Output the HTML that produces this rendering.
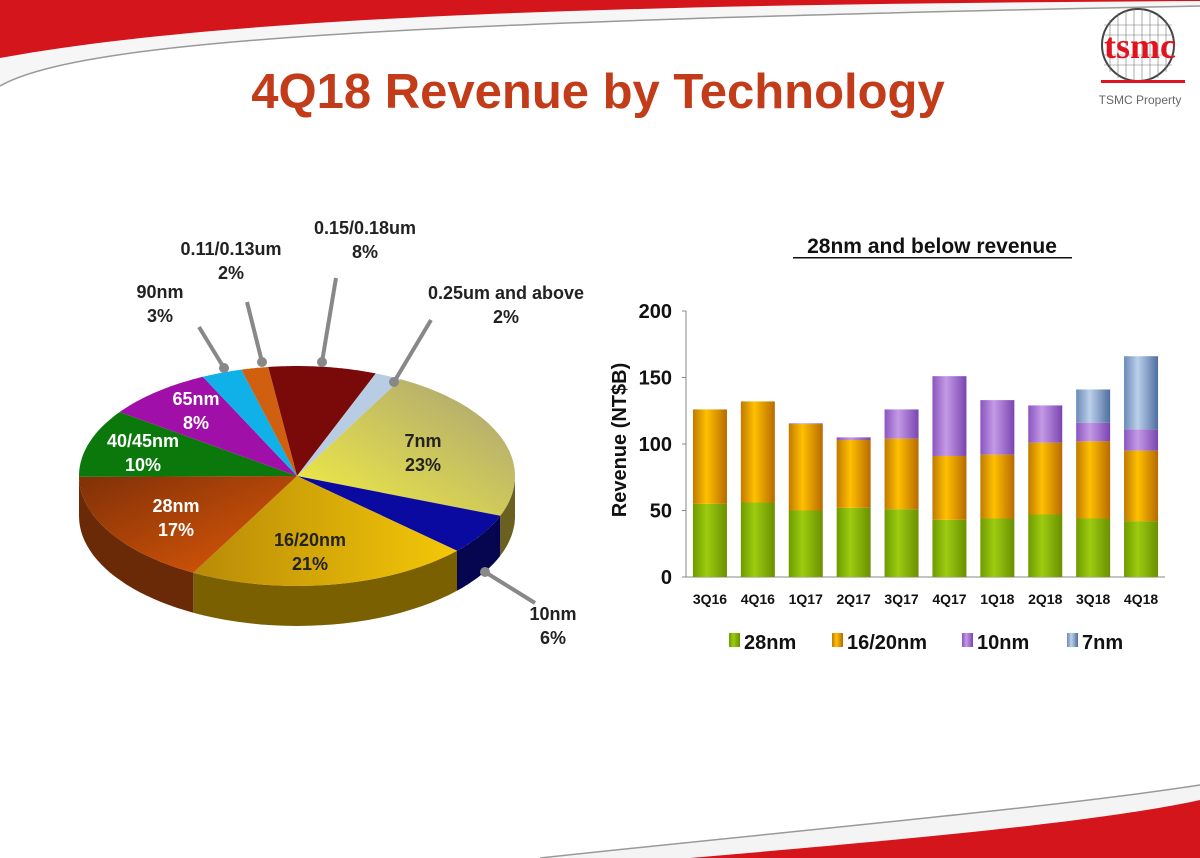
<!DOCTYPE html>
<html><head><meta charset="utf-8">
<style>
html,body{margin:0;padding:0;background:#fff;}
body{width:1200px;height:858px;overflow:hidden;position:relative;font-family:"Liberation Sans",sans-serif;}
svg{position:absolute;left:0;top:0;}
</style></head>
<body>
<svg id="root" width="1200" height="858" viewBox="0 0 1200 858">
<defs>
<linearGradient id="gGreen" x1="0" x2="1"><stop offset="0" stop-color="#6f9a00"/><stop offset="0.4" stop-color="#9ccc10"/><stop offset="1" stop-color="#6a9000"/></linearGradient>
<linearGradient id="gOrange" x1="0" x2="1"><stop offset="0" stop-color="#c07a00"/><stop offset="0.4" stop-color="#ffc000"/><stop offset="1" stop-color="#b86a00"/></linearGradient>
<linearGradient id="gPurple" x1="0" x2="1"><stop offset="0" stop-color="#8a55c0"/><stop offset="0.4" stop-color="#c49ae6"/><stop offset="1" stop-color="#7a45b0"/></linearGradient>
<linearGradient id="gBlue" x1="0" x2="1"><stop offset="0" stop-color="#6a8ab8"/><stop offset="0.4" stop-color="#bcd0ea"/><stop offset="1" stop-color="#4e6ea0"/></linearGradient>
<linearGradient id="g7" x1="0" y1="1" x2="1" y2="0"><stop offset="0" stop-color="#f4f040"/><stop offset="1" stop-color="#a8a078"/></linearGradient>
<linearGradient id="g16" x1="0" y1="0" x2="1" y2="0"><stop offset="0" stop-color="#b88a08"/><stop offset="1" stop-color="#f4c808"/></linearGradient>
<linearGradient id="g28" x1="0" y1="0" x2="1" y2="1"><stop offset="0" stop-color="#803008"/><stop offset="1" stop-color="#e05a08"/></linearGradient>
</defs>
<!-- decorative swooshes -->
<path d="M0,86 C80,40 400,22 1200,6 L1200,0 L0,0 Z" fill="#f6f6f6"/>
<path d="M0,86 C80,40 400,22 1200,6" fill="none" stroke="#999" stroke-width="1.5"/>
<path d="M0,0 L1200,0 L1200,1 C700,4 250,12 0,58 Z" fill="#d4151b"/>
<path d="M540,858 C800,830 1050,808 1200,785 L1200,858 Z" fill="#f4f4f4"/>
<path d="M540,858 C800,830 1050,808 1200,785" fill="none" stroke="#999" stroke-width="1.5"/>
<path d="M690,858 C900,840 1100,822 1200,800 L1200,858 Z" fill="#d4151b"/>

<text x="598" y="108" text-anchor="middle" font-size="49" font-weight="bold" fill="#c23c1a">4Q18 Revenue by Technology</text>

<g>
<circle cx="1138" cy="45" r="36" fill="#fff" stroke="#444" stroke-width="2"/>
<g stroke="#777" stroke-width="0.6">
<line x1="1110" y1="20" x2="1110" y2="72"/><line x1="1118" y1="13" x2="1118" y2="78"/><line x1="1126" y1="10" x2="1126" y2="80"/><line x1="1134" y1="9" x2="1134" y2="81"/><line x1="1142" y1="9" x2="1142" y2="81"/><line x1="1150" y1="10" x2="1150" y2="80"/><line x1="1158" y1="13" x2="1158" y2="78"/><line x1="1166" y1="20" x2="1166" y2="72"/>
<line x1="1104" y1="25" x2="1172" y2="25"/><line x1="1102" y1="35" x2="1174" y2="35"/><line x1="1102" y1="55" x2="1174" y2="55"/><line x1="1104" y1="65" x2="1172" y2="65"/>
</g>
<text x="1140" y="58" text-anchor="middle" font-family="Liberation Serif,serif" font-size="36" font-weight="bold" fill="#e0141e">tsmc</text>
<rect x="1101" y="80" width="84" height="3" fill="#e0141e"/>
<text x="1140" y="104" text-anchor="middle" font-size="12" fill="#666">TSMC Property</text>
</g>

<g id="pie"></g>
<g id="bars"></g>
</svg>
<script>
const NS="http://www.w3.org/2000/svg";
function mk(tag,attrs,parent){const e=document.createElementNS(NS,tag);for(const k in attrs)e.setAttribute(k,attrs[k]);parent.appendChild(e);return e;}

// ---------- PIE ----------
const pieLabels=["0.15/0.18um","0.25um and above","7nm","10nm","16/20nm","28nm","40/45nm","65nm","90nm","0.11/0.13um"];
const pieValues=[8,2,23,6,21,17,10,8,3,2];
const pieTop=["#7a0a0a","#b8cce4","url(#g7)","#0a0aa0","url(#g16)","url(#g28)","#0a780a","#a010a8","#10b0e8","#d06010"];
const pieSide=["#4a0505","#7a8aa0","#6a6020","#050550","#7a6000","#6a2a08","#064006","#600660","#087098","#804008"];
const pg=document.getElementById('pie');
const cx=297,cy=476,rx=218,ry=110,depth=40,start=-7.6;
function pt(a,dy){const r=a*Math.PI/180;return [cx+rx*Math.sin(r),cy-ry*Math.cos(r)+(dy||0)];}
const tot=pieValues.reduce((a,b)=>a+b,0);
let acc=start;const angs=[];
pieValues.forEach(v=>{const a0=acc,a1=acc+v/tot*360;angs.push([a0,a1]);acc=a1;});
angs.forEach((ab,i)=>{
  const a0=Math.max(ab[0],90),a1=Math.min(ab[1],270);
  if(a1<=a0)return;
  let d="";const n=24;
  for(let k=0;k<=n;k++){const p=pt(a0+(a1-a0)*k/n);d+=(k?"L":"M")+p[0].toFixed(1)+","+p[1].toFixed(1);}
  for(let k=n;k>=0;k--){const p=pt(a0+(a1-a0)*k/n,depth);d+="L"+p[0].toFixed(1)+","+p[1].toFixed(1);}
  const s=mk('path',{d:d+"Z",fill:pieSide[i]},pg);
  
  
});
angs.forEach((ab,i)=>{
  let d="M"+cx+","+cy;const n=40;
  for(let k=0;k<=n;k++){const p=pt(ab[0]+(ab[1]-ab[0])*k/n);d+="L"+p[0].toFixed(1)+","+p[1].toFixed(1);}
  const s=mk('path',{d:d+"Z",fill:pieTop[i]},pg);
  
  
});
const inside={"7nm":[423,447,"#222"],"16/20nm":[310,546,"#222"],"28nm":[176,512,"#fff"],"40/45nm":[143,447,"#fff"],"65nm":[196,405,"#fff"]};
const outside={"0.15/0.18um":[365,234,[[336,278],[322,362]]],"0.25um and above":[506,299,[[431,320],[394,382]]],"0.11/0.13um":[231,255,[[247,302],[262,362]]],"90nm":[160,298,[[199,327],[224,368]]],"10nm":[553,620,[[535,603],[485,572]]]};
pieLabels.forEach((lab,i)=>{
  if(inside[lab]){const [x,y,c]=inside[lab];
    const t=mk('text',{x:x,y:y,'text-anchor':'middle','font-size':18,'font-weight':'bold',fill:c},pg);
    
    
    mk('tspan',{x:x,dy:0},t).textContent=lab;
    mk('tspan',{x:x,dy:24},t).textContent=pieValues[i]+"%";
  } else if(outside[lab]){const [x,y,ln]=outside[lab];
    const l=mk('line',{x1:ln[0][0],y1:ln[0][1],x2:ln[1][0],y2:ln[1][1],stroke:'#888','stroke-width':4},pg);
    
    
    mk('circle',{cx:ln[1][0],cy:ln[1][1],r:5,fill:'#888'},pg);
    const t=mk('text',{x:x,y:y,'text-anchor':'middle','font-size':18,'font-weight':'bold',fill:'#222'},pg);
    
    
    mk('tspan',{x:x,dy:0},t).textContent=lab;
    mk('tspan',{x:x,dy:24},t).textContent=pieValues[i]+"%";
  }
});

// ---------- BARS ----------
const quarters=["3Q16","4Q16","1Q17","2Q17","3Q17","4Q17","1Q18","2Q18","3Q18","4Q18"];
const s28=[55,56,50,52,51,43,44,47,44,42];
const s16=[71,76,65,51,53,48,48,54,58,53];
const s10=[0,0,0.5,2,22,60,41,28,14,16];
const s7=[0,0,0,0,0,0,0,0,25,55];
const yTicks=[0,50,100,150,200];
const seriesNames=["28nm","16/20nm","10nm","7nm"];
const bg=document.getElementById('bars');
const x0=686,x1=1165,yB=577,yT=311,yMax=200;
const Y=v=>yB-(v/yMax)*(yB-yT);
const step=(x1-x0)/quarters.length;
const X=i=>x0+step*(i+0.5);
const bw=34;
const t0=mk('text',{x:932,y:253,'text-anchor':'middle','font-size':21,'font-weight':'bold',fill:'#111'},bg);
t0.textContent="28nm and below revenue";


const ul=mk('rect',{x:793,y:257,width:279,height:1.5,fill:'#111'},bg);


const ax=mk('path',{d:`M${x0},${yT} L${x0},${yB} L${x1},${yB}`,stroke:'#888',fill:'none','stroke-width':1},bg);


yTicks.forEach(v=>{
  mk('line',{x1:x0-4,y1:Y(v),x2:x0,y2:Y(v),stroke:'#888'},bg);
  const t=mk('text',{x:672,y:Y(v)+7,'text-anchor':'end','font-size':20,'font-weight':'bold',fill:'#111'},bg);
  t.textContent=v;
  
  
});
const yt=mk('text',{x:0,y:0,transform:'translate(626,440) rotate(-90)','text-anchor':'middle','font-size':20,'font-weight':'bold',fill:'#111'},bg);
yt.textContent="Revenue (NT$B)";


const fills=["url(#gGreen)","url(#gOrange)","url(#gPurple)","url(#gBlue)"];
const series=[s28,s16,s10,s7];
quarters.forEach((q,i)=>{
  let base=0;
  series.forEach((s,k)=>{
    const v=s[i]; if(v<=0)return;
    const r=mk('rect',{x:X(i)-bw/2,y:Y(base+v),width:bw,height:Y(base)-Y(base+v),fill:fills[k]},bg);
    
    
    base+=v;
  });
  const t=mk('text',{x:X(i),y:604,'text-anchor':'middle','font-size':14,'font-weight':'bold',fill:'#111'},bg);
  t.textContent=q;
  
  
});
const legX=[729,832,962,1067];
seriesNames.forEach((n,k)=>{
  const r=mk('rect',{x:legX[k],y:633,width:11,height:14,fill:fills[k]},bg);
  
  
  const t=mk('text',{x:legX[k]+15,y:649,'font-size':20,'font-weight':'bold',fill:'#111'},bg);
  t.textContent=n;
  
  
});
</script>
</body></html>
